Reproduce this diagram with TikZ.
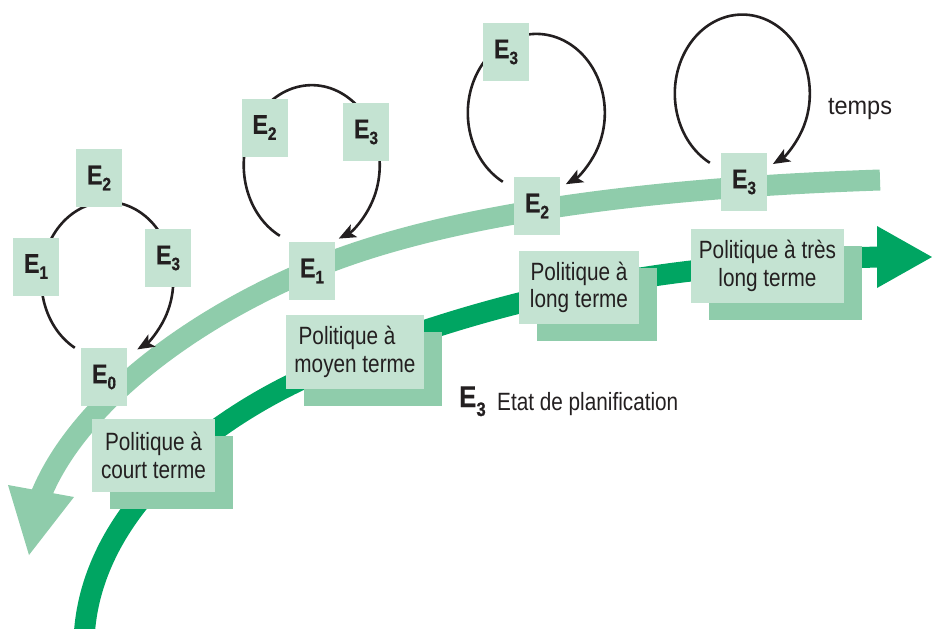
\documentclass[tikz,border=0pt]{standalone}
\usepackage{fontspec}
\setmainfont{Liberation Sans}[FakeStretch=0.83]
\newfontfamily\statefont{Liberation Sans}[FakeStretch=0.86, UprightFont={* Bold}, FakeBold=0.6]
\newfontfamily\tempsfont{Liberation Sans}[FakeStretch=0.94]
\usetikzlibrary{arrows.meta,shadows,calc}

\definecolor{paleband}{HTML}{8FCCAB}
\definecolor{boxfill}{HTML}{C4E3D2}
\definecolor{deepgreen}{HTML}{00A562}
\definecolor{ink}{HTML}{231F20}

\pgfdeclarelayer{bands}
\pgfdeclarelayer{lines}
\pgfsetlayers{bands,lines,main}

% subscript digit of a planning state
\newcommand\stsub[1]{\raisebox{-6pt}{\fontsize{18}{18}\selectfont #1}}

\tikzset{
  state/.style={fill=boxfill, minimum width=46pt, minimum height=58pt, inner sep=0pt,
    text=ink, font=\statefont\fontsize{27}{27}\selectfont},
  policy/.style={fill=boxfill, inner sep=0pt, text=ink, align=center,
    font=\fontsize{25}{27.5}\selectfont,
    drop shadow={fill=paleband, opacity=1, shadow xshift=18pt, shadow yshift=-17pt}},
  cycleline/.style={draw=ink, line width=2.6pt},
  cyclearrow/.style={cycleline, -{Stealth[length=17pt,width=14pt,inset=4pt]}},
  band/.style={line width=21pt}
}

\begin{document}
\begin{tikzpicture}[x=1pt,y=-1pt]
\useasboundingbox (0,0) rectangle (932,629);

% planning states
\node[state] (a0) at (104,377) {E\stsub{0}};
\node[state] (a1) at (36,266.5) {E\stsub{1}};
\node[state] (a2) at (99,178) {E\stsub{2}};
\node[state] (a3) at (168,258) {E\stsub{3}};
\node[state] (b1) at (312,271) {E\stsub{1}};
\node[state] (b2) at (264.5,127.5) {E\stsub{2}};
\node[state] (b3) at (366,132) {E\stsub{3}};
\node[state] (c2) at (537,206) {E\stsub{2}};
\node[state] (c3) at (506,52) {E\stsub{3}};
\node[state] (d3) at (744,182) {E\stsub{3}};

% policy boxes
\node[policy, minimum width=123pt, minimum height=73pt, yshift=4pt] (pc) at (153.5,459.5) {Politique à\\court terme};
\node[policy, minimum width=138pt, minimum height=74pt, align=left] (pm) at (355,352) {\,Politique à\\moyen terme};
\node[policy, minimum width=120pt, minimum height=73pt] (pl) at (579,287.5) {Politique à\\long terme};
\node[policy, minimum width=153pt, minimum height=74pt] (pt) at (767.5,266) {Politique à très\\long terme};

% labels
\node[inner sep=0pt, text=ink, font=\tempsfont\fontsize{25}{25}\selectfont] (tm) at (860,109) {temps};
\node[anchor=base west, inner sep=0pt, text=ink, font=\statefont\fontsize{30}{30}\selectfont]
  (lg) at (459,407) {E\raisebox{-9pt}{\fontsize{19.5}{19.5}\selectfont 3}};
\node[anchor=base west, inner sep=0pt, text=ink, font=\fontsize{25}{25}\selectfont]
  (lgt) at (497,410) {Etat de planification};

% state cycles
\begin{pgfonlayer}{lines}
\draw[cyclearrow] ($(a0.north west)+(-6,0)$)
  arc[start angle=240.5, end angle=-63, x radius=66pt, y radius=78pt];
\draw[cyclearrow] ($(b1.north west)+(-9,-6)$)
  arc[start angle=242, end angle=-66.6, x radius=68pt, y radius=80pt];
\draw[cyclearrow] ($(c2.north west)+(-11,5)$)
  arc[start angle=240.7, end angle=-64.5, x radius=68.5pt, y radius=79pt];
\draw[cyclearrow] ($(d3.north west)+(-11,10)$)
  arc[start angle=241.2, end angle=-63.1, x radius=67.5pt, y radius=79pt];
\end{pgfonlayer}

% time bands
\begin{pgfonlayer}{bands}
\draw[band, deepgreen] (84,640) .. controls (88,530) and (180,440) .. (290,385)
  .. controls (400,330) and (560,285) .. (700,270)
  .. controls (780,262) and (830,258) .. (880,257);
\fill[deepgreen] (877,226) -- (932,257) -- (877,288) -- cycle;
\draw[band, paleband] (880,180) .. controls (700,186) and (480,205) .. (330,262)
  .. controls (200,312) and (80,400) .. (41,495);
\fill[paleband] (8,485) -- (29,555) -- (74,497) -- cycle;
\end{pgfonlayer}
\end{tikzpicture}
\end{document}
